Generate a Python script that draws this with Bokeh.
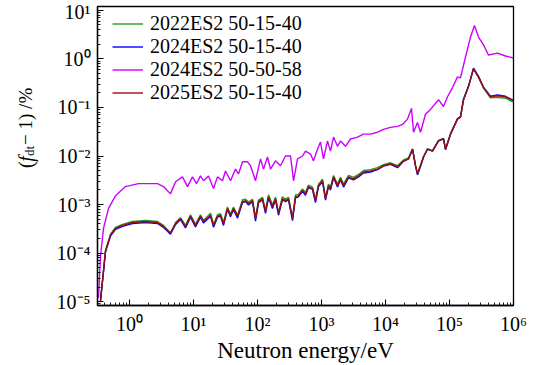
import numpy as np
from bokeh.plotting import figure
from bokeh.layouts import row
from bokeh.core.properties import value
from bokeh.models import (Range1d, FixedTicker, CustomJSTickFormatter, Legend,
                          LegendItem, ColumnDataSource)
from bokeh.embed import file_html
from bokeh.resources import INLINE

# ---------------- data (log10 values) ----------------
series_labels = ["2022ES2 50-15-40", "2024ES2 50-15-40",
                 "2024ES2 50-50-58", "2025ES2 50-15-40"]
series_colors = ["#1f9e1f", "#0000ff", "#cc00ff", "#a00c0c"]

# energy grid (log10 eV) shared by the three 50-15-40 curves
log10_energy_low = [-0.453, -0.375, -0.297, -0.219, -0.109, 0.047, 0.25, 0.438, 0.531, 0.64,
                    0.72, 0.797, 0.875, 0.953, 1.031, 1.109, 1.156, 1.266, 1.313, 1.375,
                    1.422, 1.469, 1.531, 1.578, 1.625, 1.688, 1.766, 1.813, 1.859, 1.922,
                    1.969, 2.016, 2.078, 2.125, 2.172, 2.234, 2.281, 2.328, 2.39, 2.438,
                    2.484, 2.547, 2.594, 2.64, 2.703, 2.75, 2.797, 2.859, 2.906, 2.953,
                    3.016, 3.063, 3.109, 3.14, 3.188, 3.25, 3.297, 3.344, 3.422, 3.5,
                    3.578, 3.656, 3.766, 3.875, 3.969, 4.078, 4.188, 4.281, 4.359, 4.422,
                    4.469, 4.5, 4.547, 4.594, 4.656, 4.734, 4.828, 4.906, 4.938, 5.016,
                    5.125, 5.172, 5.219, 5.297, 5.375, 5.453, 5.531, 5.64, 5.75, 5.875, 6.0]

log10_pct_2022_501540 = [-4.97, -3.94, -3.61, -3.47, -3.41, -3.35, -3.33, -3.35, -3.43, -3.58,
                         -3.37, -3.27, -3.43, -3.21, -3.41, -3.21, -3.33, -3.18, -3.41, -3.21,
                         -3.19, -3.37, -3.05, -3.20, -3.05, -3.22, -2.90, -2.89, -2.95, -2.89,
                         -3.27, -2.91, -2.85, -3.12, -2.80, -3.01, -2.85, -3.16, -2.84, -2.89,
                         -2.85, -3.27, -2.80, -2.79, -2.68, -2.75, -2.60, -2.64, -2.90, -2.58,
                         -2.48, -2.86, -2.58, -2.64, -2.40, -2.58, -2.44, -2.58, -2.40, -2.44,
                         -2.38, -2.30, -2.28, -2.24, -2.18, -2.14, -2.20, -2.08, -2.04, -1.85,
                         -2.19, -2.36, -2.19, -2.01, -1.85, -1.89, -1.68, -1.64, -1.85, -1.54,
                         -1.24, -1.20, -0.84, -0.57, -0.21, -0.38, -0.60, -0.80, -0.79, -0.81, -0.89]

log10_pct_2024_501540 = [-4.99, -3.98, -3.65, -3.51, -3.45, -3.39, -3.37, -3.39, -3.47, -3.61,
                         -3.41, -3.31, -3.48, -3.26, -3.46, -3.26, -3.38, -3.24, -3.47, -3.26,
                         -3.24, -3.43, -3.10, -3.25, -3.10, -3.28, -2.96, -2.94, -3.01, -2.94,
                         -3.34, -2.96, -2.90, -3.18, -2.86, -3.08, -2.90, -3.22, -2.90, -2.94,
                         -2.90, -3.33, -2.86, -2.84, -2.73, -2.81, -2.65, -2.69, -2.96, -2.63,
                         -2.53, -2.91, -2.63, -2.70, -2.45, -2.64, -2.49, -2.64, -2.45, -2.49,
                         -2.43, -2.35, -2.33, -2.28, -2.21, -2.17, -2.24, -2.11, -2.06, -1.86,
                         -2.21, -2.39, -2.21, -2.02, -1.86, -1.90, -1.69, -1.64, -1.87, -1.55,
                         -1.23, -1.19, -0.83, -0.56, -0.19, -0.36, -0.58, -0.77, -0.74, -0.77, -0.86]

log10_pct_2025_501540 = [-4.98, -3.96, -3.63, -3.49, -3.43, -3.37, -3.35, -3.37, -3.45, -3.59,
                         -3.39, -3.29, -3.45, -3.24, -3.43, -3.24, -3.35, -3.22, -3.43, -3.24,
                         -3.22, -3.39, -3.08, -3.22, -3.08, -3.24, -2.94, -2.92, -2.98, -2.92,
                         -3.29, -2.94, -2.88, -3.14, -2.84, -3.04, -2.88, -3.18, -2.88, -2.92,
                         -2.88, -3.29, -2.84, -2.82, -2.71, -2.78, -2.63, -2.67, -2.92, -2.61,
                         -2.51, -2.88, -2.61, -2.67, -2.43, -2.61, -2.47, -2.61, -2.43, -2.47,
                         -2.41, -2.33, -2.31, -2.27, -2.20, -2.16, -2.22, -2.10, -2.06, -1.86,
                         -2.20, -2.37, -2.20, -2.02, -1.86, -1.90, -1.69, -1.65, -1.86, -1.55,
                         -1.24, -1.20, -0.84, -0.57, -0.20, -0.37, -0.59, -0.78, -0.76, -0.78, -0.86]

# energy grid (log10 eV) and values for 2024ES2 50-50-58
log10_energy_5058 = [-0.484, -0.453, -0.406, -0.328, -0.219, -0.063, 0.141, 0.438, 0.531, 0.64,
                     0.72, 0.828, 0.906, 0.984, 1.047, 1.109, 1.156, 1.234, 1.313, 1.375,
                     1.453, 1.5, 1.578, 1.656, 1.703, 1.766, 1.844, 1.891, 1.969, 2.047,
                     2.094, 2.156, 2.203, 2.281, 2.359, 2.438, 2.516, 2.563, 2.625, 2.703,
                     2.75, 2.828, 2.875, 2.938, 2.984, 3.031, 3.094, 3.14, 3.188, 3.25,
                     3.297, 3.375, 3.453, 3.563, 3.656, 3.766, 3.875, 3.969, 4.078, 4.188,
                     4.266, 4.344, 4.406, 4.438, 4.5, 4.547, 4.625, 4.703, 4.828, 4.906,
                     4.969, 5.047, 5.125, 5.172, 5.25, 5.328, 5.39, 5.453, 5.531, 5.609,
                     5.75, 5.875, 6.0]
log10_pct_2024_505058 = [-4.92, -4.06, -3.49, -3.08, -2.82, -2.63, -2.57, -2.57, -2.63, -2.78,
                         -2.53, -2.43, -2.63, -2.43, -2.57, -2.41, -2.51, -2.41, -2.67, -2.43,
                         -2.51, -2.31, -2.51, -2.27, -2.37, -2.12, -2.12, -2.20, -2.51, -2.06,
                         -2.27, -2.02, -2.27, -2.10, -2.20, -2.00, -2.00, -2.51, -2.06, -2.00,
                         -1.90, -1.96, -2.10, -1.86, -1.71, -2.06, -1.69, -1.90, -1.61, -1.80,
                         -1.69, -1.80, -1.65, -1.61, -1.55, -1.55, -1.51, -1.45, -1.41, -1.39,
                         -1.35, -1.24, -1.02, -1.51, -1.31, -1.51, -1.14, -1.04, -0.84, -0.98,
                         -0.78, -0.59, -0.37, -0.39, 0.04, 0.45, 0.69, 0.45, 0.29, 0.08,
                         0.12, 0.06, 0.02]

x_major_exponents = [0, 1, 2, 3, 4, 5, 6]
y_major_exponents = [-5, -4, -3, -2, -1, 0, 1]

x_title = "Neutron energy/eV"
# y title pieces: "(" + italic f + subscript "dt" + "− 1) /%"
y_title_pieces = ["(", "f", "dt", "\u2212 1) /%"]

FONT = "Liberation Serif"
H = 365
YLAB_W = 40

# ---------------- main figure ----------------
p = figure(width=534 - YLAB_W, height=H, x_axis_type="log", y_axis_type="log",
           x_range=Range1d(10 ** -0.5, 10 ** 6), y_range=Range1d(10 ** -5.08, 10 ** 1.08),
           output_backend="svg", toolbar_location=None,
           min_border_left=97 - YLAB_W, min_border_right=21, min_border_top=6, min_border_bottom=57)
p.xgrid.visible = False
p.ygrid.visible = False
p.outline_line_color = "black"
p.outline_line_width = 1.3
p.outline_line_alpha = 1.0
p.background_fill_color = "white"
p.border_fill_color = "white"

def minors(lo, hi):
    out = []
    for n in range(lo, hi):
        for k in range(2, 10):
            out.append(k * 10.0 ** n)
    return out

p.xaxis.ticker = FixedTicker(ticks=[10.0 ** e for e in x_major_exponents], minor_ticks=minors(-1, 6))
p.yaxis.ticker = FixedTicker(ticks=[10.0 ** e for e in y_major_exponents], minor_ticks=minors(-6, 1))

fmt_code = """
const e = Math.round(Math.log10(tick));
const sup = {"-": "\u207b", "0": "\u2070", "1": "\u00b9", "2": "\u00b2", "3": "\u00b3",
             "4": "\u2074", "5": "\u2075", "6": "\u2076", "7": "\u2077", "8": "\u2078", "9": "\u2079"};
return "10" + String(e).split("").map(c => sup[c]).join("");
"""
for ax in (p.xaxis[0], p.yaxis[0]):
    ax.formatter = CustomJSTickFormatter(code=fmt_code)
    ax.major_label_text_font = FONT
    ax.major_label_text_font_size = "20px"
    ax.major_label_text_color = "black"
    ax.axis_line_color = "black"
    ax.axis_line_width = 1.3
    ax.major_tick_line_color = "black"
    ax.minor_tick_line_color = "black"
    ax.major_tick_in = 6
    ax.major_tick_out = 0
    ax.minor_tick_in = 3
    ax.minor_tick_out = 0
    ax.major_tick_line_width = 1.1
    ax.minor_tick_line_width = 0.9
p.xaxis.major_label_standoff = 7
p.yaxis.major_label_standoff = 7
p.yaxis.axis_label = None
p.xaxis.axis_label = x_title
p.xaxis.axis_label_text_font = FONT
p.xaxis.axis_label_text_font_size = "23px"
p.xaxis.axis_label_text_font_style = "normal"
p.xaxis.axis_label_text_color = "black"
p.xaxis.axis_label_standoff = 0

# ---------------- curves ----------------
E_low = [10.0 ** v for v in log10_energy_low]
E_5058 = [10.0 ** v for v in log10_energy_5058]
curves = [
    (E_low, log10_pct_2022_501540),
    (E_low, log10_pct_2024_501540),
    (E_5058, log10_pct_2024_505058),
    (E_low, log10_pct_2025_501540),
]
items = []
for (ex, ly), lab, col in zip(curves, series_labels, series_colors):
    src = ColumnDataSource(dict(x=ex, y=[10.0 ** v for v in ly]))
    r = p.line("x", "y", source=src, line_color=col, line_width=1.4)
    items.append(LegendItem(label=lab, renderers=[r]))

legend = Legend(items=items, location=(15, 201.5), border_line_color=None,
                background_fill_alpha=0, label_text_font=FONT, label_text_font_size="20px",
                label_text_color="black",
                glyph_width=31, glyph_height=21, label_height=21, spacing=0,
                padding=0, margin=0, label_standoff=7)
p.add_layout(legend)

# ---------------- y title strip (page-pixel coordinates) ----------------
q = figure(width=YLAB_W, height=H, x_range=Range1d(0, YLAB_W), y_range=Range1d(0, H),
           output_backend="svg", toolbar_location=None,
           x_axis_location=None, y_axis_location=None,
           min_border_left=0, min_border_right=0, min_border_top=0, min_border_bottom=0)
q.xgrid.visible = False
q.ygrid.visible = False
q.outline_line_color = None
q.background_fill_color = "white"
q.border_fill_color = "white"

piece_pos = [(25, H - 197), (25, H - 189.5), (29, H - 182.5), (25, H - 169)]
piece_size = ["20px", "20px", "13px", "19px"]
piece_style = ["normal", "italic", "normal", "normal"]
for txt, (xx, yy), fs, st in zip(y_title_pieces, piece_pos, piece_size, piece_style):
    q.text(x=[xx], y=[yy], text=[txt], angle=np.pi / 2,
           text_font=value(FONT), text_font_size=value(fs), text_font_style=value(st),
           text_align="left", text_baseline="alphabetic", text_color="black")

layout = row(q, p)
open("out.html", "w").write(file_html(layout, INLINE))
